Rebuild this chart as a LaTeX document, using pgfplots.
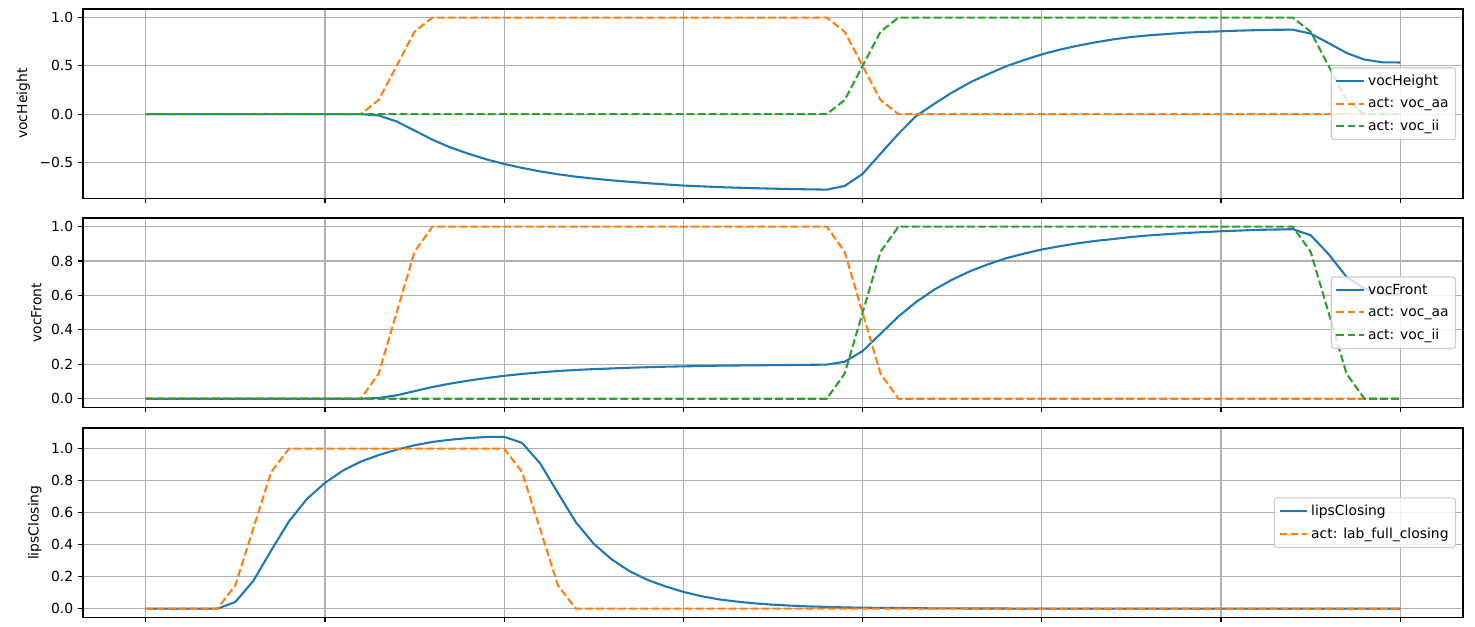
\documentclass[border=0pt]{standalone}
\usepackage{fontspec}
\setmainfont{DejaVu Sans}
\usepackage{pgfplots}
\usepackage{pgfplotstable}
\pgfplotsset{compat=1.18}
\definecolor{mplblue}{HTML}{1F77B4}
\definecolor{mplorange}{HTML}{FF7F0E}
\definecolor{mplgreen}{HTML}{2CA02C}
\definecolor{mplgrid}{HTML}{B0B0B0}

% t, tract variable, activations
\pgfplotstableread{
t h aa ii
0 0 0 0
1 0 0 0
2 0 0 0
3 0 0 0
4 0 0 0
5 0 0 0
6 0 0 0
7 0 0 0
8 0 0 0
9 0 0 0
10 0 0 0
11 0 0 0
12 0 0 0
13 -0.014 0.146 0
14 -0.076 0.5 0
15 -0.170 0.854 0
16 -0.265 1 0
17 -0.345 1 0
18 -0.410 1 0
19 -0.468 1 0
20 -0.516 1 0
21 -0.557 1 0
22 -0.593 1 0
23 -0.623 1 0
24 -0.648 1 0
25 -0.668 1 0
26 -0.686 1 0
27 -0.701 1 0
28 -0.715 1 0
29 -0.728 1 0
30 -0.740 1 0
31 -0.748 1 0
32 -0.756 1 0
33 -0.762 1 0
34 -0.767 1 0
35 -0.772 1 0
36 -0.776 1 0
37 -0.779 1 0
38 -0.782 1 0
39 -0.744 0.854 0.146
40 -0.619 0.5 0.5
41 -0.410 0.146 0.854
42 -0.204 0 1
43 -0.017 0 1
44 0.107 0 1
45 0.225 0 1
46 0.329 0 1
47 0.415 0 1
48 0.495 0 1
49 0.560 0 1
50 0.619 0 1
51 0.668 0 1
52 0.709 0 1
53 0.744 0 1
54 0.775 0 1
55 0.799 0 1
56 0.817 0 1
57 0.830 0 1
58 0.844 0 1
59 0.851 0 1
60 0.858 0 1
61 0.865 0 1
62 0.870 0 1
63 0.874 0 1
64 0.875 0 1
65 0.834 0 0.854
66 0.736 0 0.5
67 0.634 0 0.146
68 0.565 0 0
69 0.537 0 0
70 0.535 0 0
}\height

\pgfplotstableread{
t f aa ii
0 0 0 0
1 0 0 0
2 0 0 0
3 0 0 0
4 0 0 0
5 0 0 0
6 0 0 0
7 0 0 0
8 0 0 0
9 0 0 0
10 0 0 0
11 0 0 0
12 0 0 0
13 0.004 0.146 0
14 0.020 0.5 0
15 0.044 0.854 0
16 0.068 1 0
17 0.088 1 0
18 0.105 1 0
19 0.120 1 0
20 0.133 1 0
21 0.144 1 0
22 0.153 1 0
23 0.161 1 0
24 0.167 1 0
25 0.172 1 0
26 0.176 1 0
27 0.180 1 0
28 0.183 1 0
29 0.186 1 0
30 0.188 1 0
31 0.190 1 0
32 0.192 1 0
33 0.193 1 0
34 0.194 1 0
35 0.195 1 0
36 0.196 1 0
37 0.197 1 0
38 0.198 1 0
39 0.215 0.854 0.146
40 0.277 0.5 0.5
41 0.377 0.146 0.854
42 0.478 0 1
43 0.563 0 1
44 0.634 0 1
45 0.692 0 1
46 0.741 0 1
47 0.781 0 1
48 0.816 0 1
49 0.843 0 1
50 0.867 0 1
51 0.886 0 1
52 0.903 0 1
53 0.917 0 1
54 0.928 0 1
55 0.940 0 1
56 0.949 0 1
57 0.956 0 1
58 0.963 0 1
59 0.968 0 1
60 0.973 0 1
61 0.977 0 1
62 0.981 0 1
63 0.983 0 1
64 0.985 0 1
65 0.950 0 0.854
66 0.840 0 0.5
67 0.708 0 0.146
68 0.640 0 0
69 0.612 0 0
70 0.606 0 0
}\front

\pgfplotstableread{
t l lab
0 0 0
1 0 0
2 0 0
3 0 0
4 0 0
5 0.042 0.146
6 0.173 0.5
7 0.364 0.854
8 0.547 1
9 0.686 1
10 0.786 1
11 0.863 1
12 0.919 1
13 0.960 1
14 0.994 1
15 1.021 1
16 1.042 1
17 1.056 1
18 1.066 1
19 1.073 1
20 1.074 1
21 1.036 0.854
22 0.909 0.5
23 0.723 0.146
24 0.540 0
25 0.405 0
26 0.308 0
27 0.234 0
28 0.180 0
29 0.139 0
30 0.105 0
31 0.078 0
32 0.058 0
33 0.044 0
34 0.033 0
35 0.025 0
36 0.019 0
37 0.014 0
38 0.011 0
39 0.008 0
40 0.006 0
41 0.005 0
42 0.004 0
43 0.003 0
44 0.002 0
45 0.002 0
46 0.001 0
47 0.001 0
48 0.001 0
49 0 0
50 0 0
51 0 0
52 0 0
53 0 0
54 0 0
55 0 0
56 0 0
57 0 0
58 0 0
59 0 0
60 0 0
61 0 0
62 0 0
63 0 0
64 0 0
65 0 0
66 0 0
67 0 0
68 0 0
69 0 0
70 0 0
}\lips

\pgfplotsset{
  panel/.style={
    scale only axis, width=993.6pt, height=136.3pt,
    xmin=-3.5, xmax=73.5,
    xtick={0,10,...,70}, xticklabels={},
    tick pos=left, tick align=outside,
    major tick length=3.5pt,
    every tick/.style={black, line width=0.8pt},
    axis line style={line width=0.8pt},
    grid=major, grid style={mplgrid, line width=0.8pt},
    ticklabel style={font=\fontsize{10}{12}\selectfont},
    ylabel style={font=\fontsize{10}{12}\selectfont},
    legend cell align=left,
    legend style={at={(1,0.5)}, xshift=-5pt, anchor=east,
      draw=black!20, line width=0.8pt, fill=white, fill opacity=0.8,
      text opacity=1, draw opacity=1, rounded corners=2pt,
      inner sep=3pt, row sep=3.5pt,
      font=\fontsize{10}{12}\selectfont},
    legend image code/.code={\draw[##1] (0pt,0pt) -- (20pt,0pt);},
  },
  sig/.style={mplblue, line width=1.5pt},
  actA/.style={mplorange, line width=1.5pt, dash pattern=on 5.55pt off 2.4pt},
  actB/.style={mplgreen, line width=1.5pt, dash pattern=on 5.55pt off 2.4pt},
}

\begin{document}
\begin{tikzpicture}
\useasboundingbox (-59.76pt,6.48pt) rectangle (1002.24pt,-444.24pt);

\begin{axis}[panel, at={(0pt,0pt)}, anchor=north west,
  ymin=-0.872, ymax=1.089,
  ytick={-0.5,0,0.5,1}, yticklabels={−0.5,0.0,0.5,1.0},
  ylabel={vocHeight}]
\addplot[sig] table[x=t,y=h] {\height};
\addlegendentry{vocHeight}
\addplot[actA] table[x=t,y=aa] {\height};
\addlegendentry{act: voc\_aa}
\addplot[actB] table[x=t,y=ii] {\height};
\addlegendentry{act: voc\_ii}
\end{axis}

\begin{axis}[panel, at={(0pt,-150.48pt)}, anchor=north west,
  ymin=-0.05, ymax=1.05,
  ytick={0,0.2,0.4,0.6,0.8,1}, yticklabels={0.0,0.2,0.4,0.6,0.8,1.0},
  ylabel={vocFront}]
\addplot[sig] table[x=t,y=f] {\front};
\addlegendentry{vocFront}
\addplot[actA] table[x=t,y=aa] {\front};
\addlegendentry{act: voc\_aa}
\addplot[actB] table[x=t,y=ii] {\front};
\addlegendentry{act: voc\_ii}
\end{axis}

\begin{axis}[panel, at={(0pt,-301.68pt)}, anchor=north west,
  ymin=-0.054, ymax=1.129,
  ytick={0,0.2,0.4,0.6,0.8,1}, yticklabels={0.0,0.2,0.4,0.6,0.8,1.0},
  ylabel={lipsClosing}]
\addplot[sig] table[x=t,y=l] {\lips};
\addlegendentry{lipsClosing}
\addplot[actA] table[x=t,y=lab] {\lips};
\addlegendentry{act: lab\_full\_closing}
\end{axis}
\end{tikzpicture}
\end{document}
